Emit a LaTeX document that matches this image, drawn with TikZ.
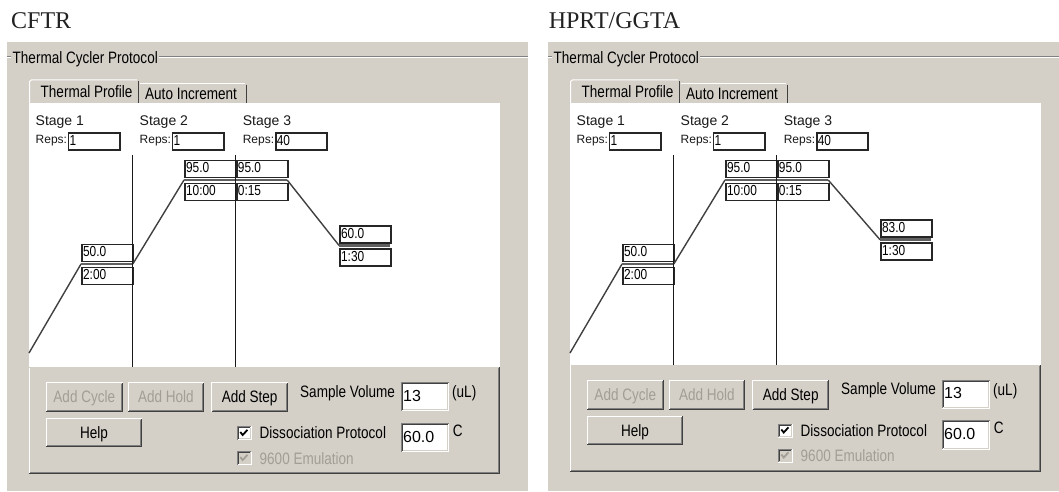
\documentclass[tikz,border=0pt]{standalone}
\usepackage{fontspec}
\setmainfont{Liberation Serif}
\newfontfamily\uifont[FakeStretch=0.82]{Liberation Sans}
\newfontfamily\plainsans{Liberation Sans}
\usetikzlibrary{calc}
\definecolor{wingray}{HTML}{D4D0C8}
\definecolor{winshadow}{HTML}{808080}
\definecolor{windark}{HTML}{404040}
\definecolor{disabledgray}{HTML}{A29E96}
\definecolor{titlegray}{HTML}{222222}
\tikzset{
  ui/.style={font={\uifont\fontsize{16.5}{18}\selectfont}, inner sep=0pt, text=black},
  uilbl/.style={ui, anchor=base west},
  disabledtxt/.style={text=disabledgray},
  stagelbl/.style={font={\plainsans\fontsize{14}{16}\selectfont}, inner sep=0pt, anchor=base west, text=black!90},
  repslbl/.style={font={\plainsans\fontsize{12}{14}\selectfont}, inner sep=0pt, anchor=base west, text=black!90},
  valbox/.style={draw=black!85, line width=1.8pt, fill=white, anchor=north west,
    font={\uifont\fontsize{14.5}{16}\selectfont}, minimum height=17pt, text width=49pt,
    inner xsep=1.2pt, inner ysep=0pt, text height=9pt, text depth=1pt, align=left},
  btn/.style={ui, fill=wingray, anchor=north west, minimum height=29.6pt,
    text height=11.8pt, text depth=0pt},
  txtbox/.style={fill=white, anchor=north west, font={\plainsans\fontsize{16}{18}\selectfont},
    minimum height=29pt, text width=44pt, inner xsep=2pt, inner ysep=0pt,
    text height=12pt, text depth=3pt, align=left},
  chkbox/.style={fill=white, anchor=north west, minimum width=15pt, minimum height=14pt, inner sep=0pt},
  ramp/.style={draw=windark, line width=1.4pt},
  plateau/.style={draw=black!62, line width=2.8pt},
  stageline/.style={draw=black!90, line width=1.3pt},
  groupline/.style={draw=winshadow, line width=1pt},
  titletxt/.style={font={\fontsize{24}{28}\selectfont}, inner sep=0pt, anchor=base west, text=titlegray}
}
\newcommand\raisedbevel[1]{%
  \draw[white,line width=1pt] ([shift={(0.5pt,0.5pt)}]#1.south west) -- ([shift={(0.5pt,-0.5pt)}]#1.north west) -- ([shift={(-0.5pt,-0.5pt)}]#1.north east);
  \draw[windark,line width=1pt] ([shift={(0.5pt,0.5pt)}]#1.south west) -- ([shift={(-0.5pt,0.5pt)}]#1.south east) -- ([shift={(-0.5pt,-0.5pt)}]#1.north east);
  \draw[winshadow,line width=1pt] ([shift={(1.5pt,1.5pt)}]#1.south west) -- ([shift={(-1.5pt,1.5pt)}]#1.south east) -- ([shift={(-1.5pt,-1.5pt)}]#1.north east);
}
\newcommand\sunkenbevel[1]{%
  \draw[white,line width=1pt] ([shift={(0.5pt,0.5pt)}]#1.south west) -- ([shift={(-0.5pt,0.5pt)}]#1.south east) -- ([shift={(-0.5pt,-0.5pt)}]#1.north east);
  \draw[wingray,line width=1pt] ([shift={(1.5pt,1.5pt)}]#1.south west) -- ([shift={(-1.5pt,1.5pt)}]#1.south east) -- ([shift={(-1.5pt,-1.5pt)}]#1.north east);
  \draw[winshadow,line width=1pt] ([shift={(0.5pt,0.5pt)}]#1.south west) -- ([shift={(0.5pt,-0.5pt)}]#1.north west) -- ([shift={(-0.5pt,-0.5pt)}]#1.north east);
  \draw[windark,line width=1pt] ([shift={(1.5pt,1.5pt)}]#1.south west) -- ([shift={(1.5pt,-1.5pt)}]#1.north west) -- ([shift={(-1.5pt,-1.5pt)}]#1.north east);
}
\newcommand\checkmk[2]{%
  \draw[#2,line width=1.8pt] ([shift={(3.8pt,-6pt)}]#1.north west) -- ([shift={(6.2pt,-9pt)}]#1.north west) -- ([shift={(11pt,-3.8pt)}]#1.north west);
}
% #1 xshift, #2 prefix, #3 panel right edge, #4 last temperature, #5 last plateau y, #6 bottom dy
\newcommand\protopanel[6]{%
\begin{scope}[shift={(#1,0)}]
  \fill[wingray] (7,42) rectangle (#3,491);
  % group frame
  \draw[groupline] (7,56.5) -- (11,56.5);
  \draw[groupline] (159,56.5) -- (#3,56.5);
  \draw[white,line width=1pt] (7,57.5) -- (11,57.5);
  \draw[white,line width=1pt] (159,57.5) -- (#3,57.5);
  \node[uilbl] (#2group) at (12.5,63.3) {Thermal Cycler Protocol};
  % white body
  \fill[white] (29,103) rectangle (500,367);
  % tabs
  \draw[white,line width=1pt] (29.5,103) -- (29.5,81.5) -- (31.5,79.9) -- (137,79.9);
  \draw[windark,line width=1pt] (138.3,81) -- (138.3,103);
  \node[uilbl] (#2tabprof) at (40.5,97.5) {Thermal Profile};
  \draw[white,line width=1pt] (139.5,83.5) -- (245,83.5);
  \draw[windark,line width=1pt] (246.4,84.5) -- (246.4,103);
  \node[uilbl] (#2tabauto) at (145,99.5) {Auto Increment};
  % stages
  \node[stagelbl] (#2st1) at (35.5,125) {Stage 1};
  \node[stagelbl] (#2st2) at (139.5,125) {Stage 2};
  \node[stagelbl] (#2st3) at (242.6,125) {Stage 3};
  \node[repslbl] (#2rl1) at (35.5,143.3) {Reps:};
  \node[repslbl] (#2rl2) at (139.5,143.3) {Reps:};
  \node[repslbl] (#2rl3) at (242.6,143.3) {Reps:};
  \node[valbox] (#2rb1) at (67.6,131.8) {1};
  \node[valbox] (#2rb2) at (171.6,131.8) {1};
  \node[valbox] (#2rb3) at (274.7,131.8) {40};
  % profile boxes
  \node[valbox] (#2t1) at (81,243.5) {50.0};
  \node[valbox] (#2d1) at (81,266.5) {2:00};
  \node[valbox] (#2t2) at (184,159.5) {95.0};
  \node[valbox] (#2d2) at (184,182.5) {10:00};
  \node[valbox] (#2t3) at (235.8,159.5) {95.0};
  \node[valbox] (#2d3) at (235.8,182.5) {0:15};
  \node[valbox] (#2t4) at (339,{#5-20.5}) {#4};
  \node[valbox] (#2d4) at (339,{#5+2.5}) {1:30};
  % profile path
  \coordinate (#2r0) at (29,353);
  \coordinate (#2p1a) at (81,264);
  \coordinate (#2p1b) at (132.8,264);
  \coordinate (#2p2a) at (184,180);
  \coordinate (#2p2b) at (235.8,180);
  \coordinate (#2p3b) at (287.2,180);
  \coordinate (#2p4a) at (339,#5);
  \coordinate (#2p4b) at (390.4,#5);
  \draw[ramp] (#2r0) -- (#2p1a);
  \draw[plateau] (#2p1a) -- (#2p1b);
  \draw[ramp] (#2p1b) -- (#2p2a);
  \draw[plateau] (#2p2a) -- (#2p2b);
  \draw[plateau] (#2p2b) -- (#2p3b);
  \draw[ramp] (#2p3b) -- (#2p4a);
  \draw[plateau] (#2p4a) -- (#2p4b);
  % stage separators
  \coordinate (#2v1t) at (132.8,155);
  \coordinate (#2v1b) at (132.8,367);
  \coordinate (#2v2t) at (235.8,155);
  \coordinate (#2v2b) at (235.8,367);
  \draw[stageline] (#2v1t) -- (#2v1b);
  \draw[stageline] (#2v2t) -- (#2v2b);
  % lower control area
  \begin{scope}[shift={(0,#6)}]
    \fill[wingray] (29,367) rectangle (500,474);
    \draw[white,line width=1pt] (29.5,473) -- (29.5,367.5);
    \draw[windark,line width=1pt] (29,473.5) -- (499.5,473.5) -- (499.5,367);
    \draw[winshadow,line width=1pt] (30,472.5) -- (498.5,472.5) -- (498.5,368);
    \node[btn, disabledtxt, minimum width=77pt] (#2bcyc) at (45.6,382) {Add Cycle};
    \node[btn, disabledtxt, minimum width=76pt] (#2bhold) at (127.7,382) {Add Hold};
    \node[btn, minimum width=77pt] (#2bstep) at (211,382) {Add Step};
    \node[btn, minimum width=96.4pt, minimum height=29pt] (#2bhelp) at (45.6,418) {Help};
    \raisedbevel{#2bcyc}
    \raisedbevel{#2bhold}
    \raisedbevel{#2bstep}
    \raisedbevel{#2bhelp}
    \node[uilbl] (#2svl) at (300,397.4) {Sample Volume};
    \node[txtbox] (#2sv) at (401,382) {13};
    \sunkenbevel{#2sv}
    \node[uilbl] (#2ul) at (452,397.5) {(uL)};
    \node[chkbox] (#2cb1) at (236.5,426) {};
    \sunkenbevel{#2cb1}
    \checkmk{#2cb1}{black}
    \node[uilbl] (#2dis) at (259.5,438.5) {Dissociation Protocol};
    \node[txtbox] (#2dt) at (401,422.8) {60.0};
    \sunkenbevel{#2dt}
    \node[uilbl] (#2cl) at (452.7,436) {C};
    \node[chkbox, fill=wingray] (#2cb2) at (236.5,451) {};
    \sunkenbevel{#2cb2}
    \checkmk{#2cb2}{disabledgray}
    \node[uilbl, disabledtxt] (#2emu) at (259.5,464) {9600 Emulation};
  \end{scope}
\end{scope}
}
\begin{document}
\begin{tikzpicture}[x=1pt,y=-1pt]
  \useasboundingbox (0,0) rectangle (1059,491);
  \fill[white] (0,0) rectangle (1059,491);
  \node[titletxt] (ttlA) at (11,28.7) {CFTR};
  \node[titletxt] (ttlB) at (548.6,28.5) {HPRT/GGTA};
  \protopanel{0}{L}{528}{60.0}{245.4}{0}
  \protopanel{541}{R}{518}{83.0}{239.7}{-2.5}
\end{tikzpicture}
\end{document}
